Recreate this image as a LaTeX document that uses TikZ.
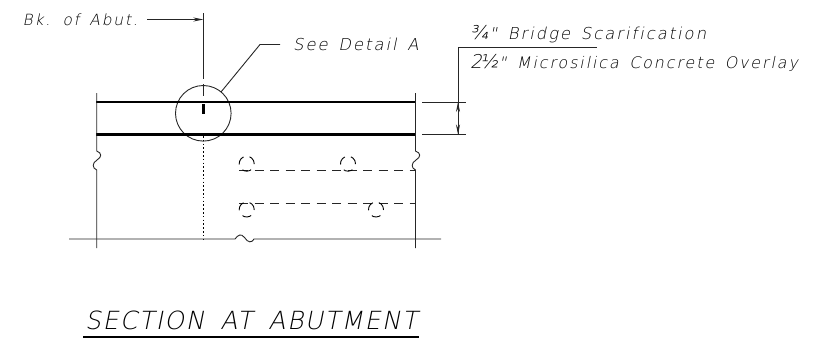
\documentclass[tikz,border=0pt]{standalone}
\usepackage{fontspec}
\setmainfont{DejaVu Sans}
\newfontfamily\cadfont[LetterSpace=12,WordSpace=1.5,FakeSlant=0.2,Ligatures=NoCommon]{DejaVu Sans ExtraLight}
\newfontfamily\cadtitle[LetterSpace=6,WordSpace=1.7,FakeSlant=0.2,Ligatures=NoCommon]{DejaVu Sans ExtraLight}
\usetikzlibrary{arrows.meta}
\newcommand{\bigfrac}[1]{{\fontsize{19}{19}\selectfont #1}}
\tikzset{
  thinline/.style={line width=0.9pt,draw=black!85},
  deck/.style={line width=2.8pt,draw=black},
  hiddenline/.style={line width=0.9pt,draw=black!85,dash pattern=on 9pt off 6.5pt},
  dotline/.style={line width=0.9pt,draw=black,dash pattern=on 1.6pt off 2.2pt},
  bar/.style={dash pattern=on 9.2pt off 6.5pt,line width=0.9pt,draw=black},
  lbl/.style={anchor=west,inner sep=0pt,font=\cadfont\fontsize{16.4}{18}\selectfont},
  lblsm/.style={anchor=west,inner sep=0pt,font=\cadfont\fontsize{15.9}{18}\selectfont},
  lblxs/.style={anchor=west,inner sep=0pt,font=\cadfont\fontsize{15.4}{18}\selectfont},
  ttl/.style={anchor=west,inner sep=0pt,font=\cadtitle\fontsize{25}{28}\selectfont},
  arr/.style={-{Stealth[length=10pt,width=4pt]},thinline},
}
\begin{document}
\begin{tikzpicture}[x=1pt,y=-1pt]
\useasboundingbox (0,0) rectangle (832,338);
\coordinate (cl) at (203.3,113.3);
\coordinate (clTop) at (203.3,13);
\coordinate (clEnd) at (203.3,79);
\coordinate (clDash) at (203.3,84);
\coordinate (clDash2) at (203.3,96);
\coordinate (tickT) at (203.3,104);
\coordinate (tickB) at (203.3,113.5);
\coordinate (dotT) at (203.3,136);
\coordinate (dotB) at (203.3,239);
\coordinate (dL1) at (96,102);
\coordinate (dR1) at (415.5,102);
\coordinate (dL2) at (96,134.5);
\coordinate (dR2) at (415.5,134.5);
\coordinate (lT) at (96.7,93);
\coordinate (lS1) at (96.7,151);
\coordinate (lS2) at (96.7,170);
\coordinate (lB) at (96.7,248);
\coordinate (rT) at (415.5,93);
\coordinate (rS1) at (415.5,151);
\coordinate (rS2) at (415.5,170);
\coordinate (rB) at (415.5,248);
\coordinate (gL) at (69,239);
\coordinate (gS1) at (235,239);
\coordinate (gS2) at (254,239);
\coordinate (gR) at (441,239);
\coordinate (e1a) at (422,102);
\coordinate (e1b) at (465.5,102);
\coordinate (e2a) at (422,134.5);
\coordinate (e2b) at (465.5,134.5);
\coordinate (dimTop) at (458,47.5);
\coordinate (dim1) at (458,102);
\coordinate (dim2) at (458,134.5);
\coordinate (dimM1) at (458,118);
\coordinate (dimEnd) at (597,47.5);
\coordinate (h1a) at (239,170.5);
\coordinate (h1b) at (415.5,170.5);
\coordinate (h2a) at (239,203);
\coordinate (h2b) at (415.5,203);
\coordinate (arrS) at (147,19.5);
\coordinate (arrE) at (203.3,19.5);
\coordinate (ldA) at (221,92);
\coordinate (ldB) at (260,44.5);
\coordinate (ldC) at (280,44.5);
\coordinate (ulA) at (83,336.7);
\coordinate (ulB) at (419,336.7);
\node[circle,draw=black!85,line width=0.9pt,minimum size=55.6pt,inner sep=0pt] (detail) at (cl) {};
\draw[thinline] (clTop) -- (clEnd);
\draw[thinline] (clDash) -- (clDash2);
\draw[line width=3.6pt] (tickT) -- (tickB);
\draw[dotline] (dotT) -- (dotB);
\draw[deck] (dL1) -- (dR1);
\draw[deck] (dL2) -- (dR2);
\draw[thinline] (lT) -- (lS1) .. controls (102,153) and (102,157) .. (97,160) .. controls (92,163) and (92,168) .. (lS2) -- (lB);
\draw[thinline] (rT) -- (rS1) .. controls (421,153) and (421,157) .. (416,160) .. controls (411,163) and (411,168) .. (rS2) -- (rB);
\draw[thinline] (gL) -- (gS1) .. controls (238,235) and (241,233) .. (244.5,237.5) .. controls (248,243) and (252,243) .. (gS2) -- (gR);
\draw[thinline] (e1a) -- (e1b);
\draw[thinline] (e2a) -- (e2b);
\draw[thinline] (dim2) -- (dimTop) -- (dimEnd);
\draw[arr] (dimM1) -- (dim1);
\draw[arr] (dimM1) -- (dim2);
\draw[hiddenline] (h1a) -- (h1b);
\draw[hiddenline] (h2a) -- (h2b);
\foreach \n/\p/\q in {b1/246.7/163.7,b2/348/163.7,b3/246.7/209.5,b4/376/209.5}{
  \node[circle,draw,bar,minimum size=15pt,inner sep=0pt,rotate=115] (\n) at (\p,\q) {};
}
\draw[arr] (arrS) -- (arrE);
\draw[thinline] (ldA) -- (ldB) -- (ldC);
\node[lblxs] (t1) at (22.5,20) {Bk. of Abut.};
\node[lbl] (t2) at (293,44) {See Detail A};
\node[lbl] (t3) at (470,34) {\bigfrac{¾}\kern1pt" Bridge Scarification};
\node[lblsm] (t4) at (470,63) {\bigfrac{2\kern-2.5pt½}\kern1pt" Microsilica Concrete Overlay};
\node[ttl] (t5) at (85,320.5) {SECTION AT ABUTMENT};
\draw[line width=2pt] (ulA) -- (ulB);
\end{tikzpicture}
\end{document}
